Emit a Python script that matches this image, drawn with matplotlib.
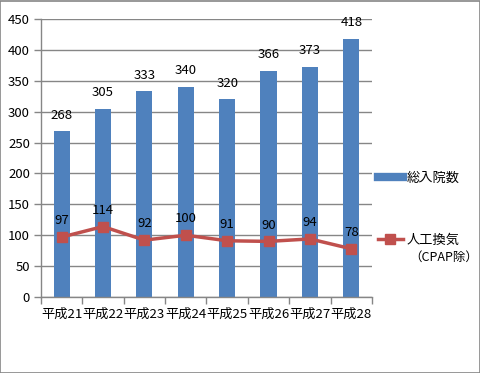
import matplotlib
matplotlib.use("Agg")
import matplotlib.pyplot as plt
from matplotlib.lines import Line2D
from matplotlib.patches import Rectangle

plt.rcParams['font.family'] = ['Noto Sans CJK JP', 'DejaVu Sans']

categories = ["平成21", "平成22", "平成23", "平成24", "平成25", "平成26", "平成27", "平成28"]
total_admissions = [268, 305, 333, 340, 320, 366, 373, 418]
ventilation = [97, 114, 92, 100, 91, 90, 94, 78]
bar_label = "総入院数"
line_label = "人工換気"
line_label2 = "（CPAP除）"

bar_color = "#4F81BD"
line_color = "#C0504D"
grid_color = "#868686"
fs = 9.5

fig = plt.figure(figsize=(4.81, 3.73), dpi=100)
fig.patches.append(Rectangle((0.001, 0.001), 0.997, 0.996, transform=fig.transFigure,
                             fill=False, edgecolor=grid_color, linewidth=1.2))
ax = fig.add_axes([0.0852, 0.2038, 0.6882, 0.7452])

x = list(range(len(categories)))
bars = ax.bar(x, total_admissions, width=0.39, color=bar_color, zorder=2)
ax.plot(x, ventilation, color=line_color, linewidth=2.5, marker='s', markersize=7,
        markeredgecolor=line_color, zorder=3)

for xi, v in zip(x, total_admissions):
    ax.annotate(str(v), (xi, v), xytext=(0, 7), textcoords='offset points',
                ha='center', va='bottom', fontsize=fs, color='black')
for xi, v in zip(x, ventilation):
    ax.annotate(str(v), (xi, v), xytext=(0, 7), textcoords='offset points',
                ha='center', va='bottom', fontsize=fs, color='black')

ax.set_ylim(0, 450)
ax.set_yticks(range(0, 451, 50))
ax.set_xlim(-0.5, len(categories) - 0.5)
ax.set_xticks([i - 0.5 for i in range(len(categories) + 1)])
ax.set_xticklabels([])
ax.set_xticks(x, minor=True)
ax.set_xticklabels(categories, minor=True)
ax.tick_params(axis='x', which='minor', length=0, pad=8, labelsize=fs)
ax.tick_params(axis='x', which='major', length=5, color=grid_color, width=1)
ax.tick_params(axis='y', length=5, color=grid_color, width=1, labelsize=fs, pad=3)

ax.yaxis.grid(True, color=grid_color, linewidth=1, zorder=0)
ax.set_axisbelow(True)
for s in ['top', 'right']:
    ax.spines[s].set_visible(False)
for s in ['left', 'bottom']:
    ax.spines[s].set_color(grid_color)
    ax.spines[s].set_linewidth(1)

handles = [Line2D([0], [0], color=bar_color, linewidth=6),
           Line2D([0], [0], color=line_color, linewidth=2.5, marker='s', markersize=7)]
leg = fig.legend(handles, [bar_label, line_label], loc='upper left',
                 bbox_to_anchor=(0.785, 0.540), frameon=False, fontsize=fs,
                 handlelength=1.9, handletextpad=0.3, labelspacing=3.75,
                 borderpad=0, borderaxespad=0)
fig.text(0.850, 0.311, line_label2, fontsize=9, ha='left', va='center')

fig.savefig("out.png", dpi=100)
